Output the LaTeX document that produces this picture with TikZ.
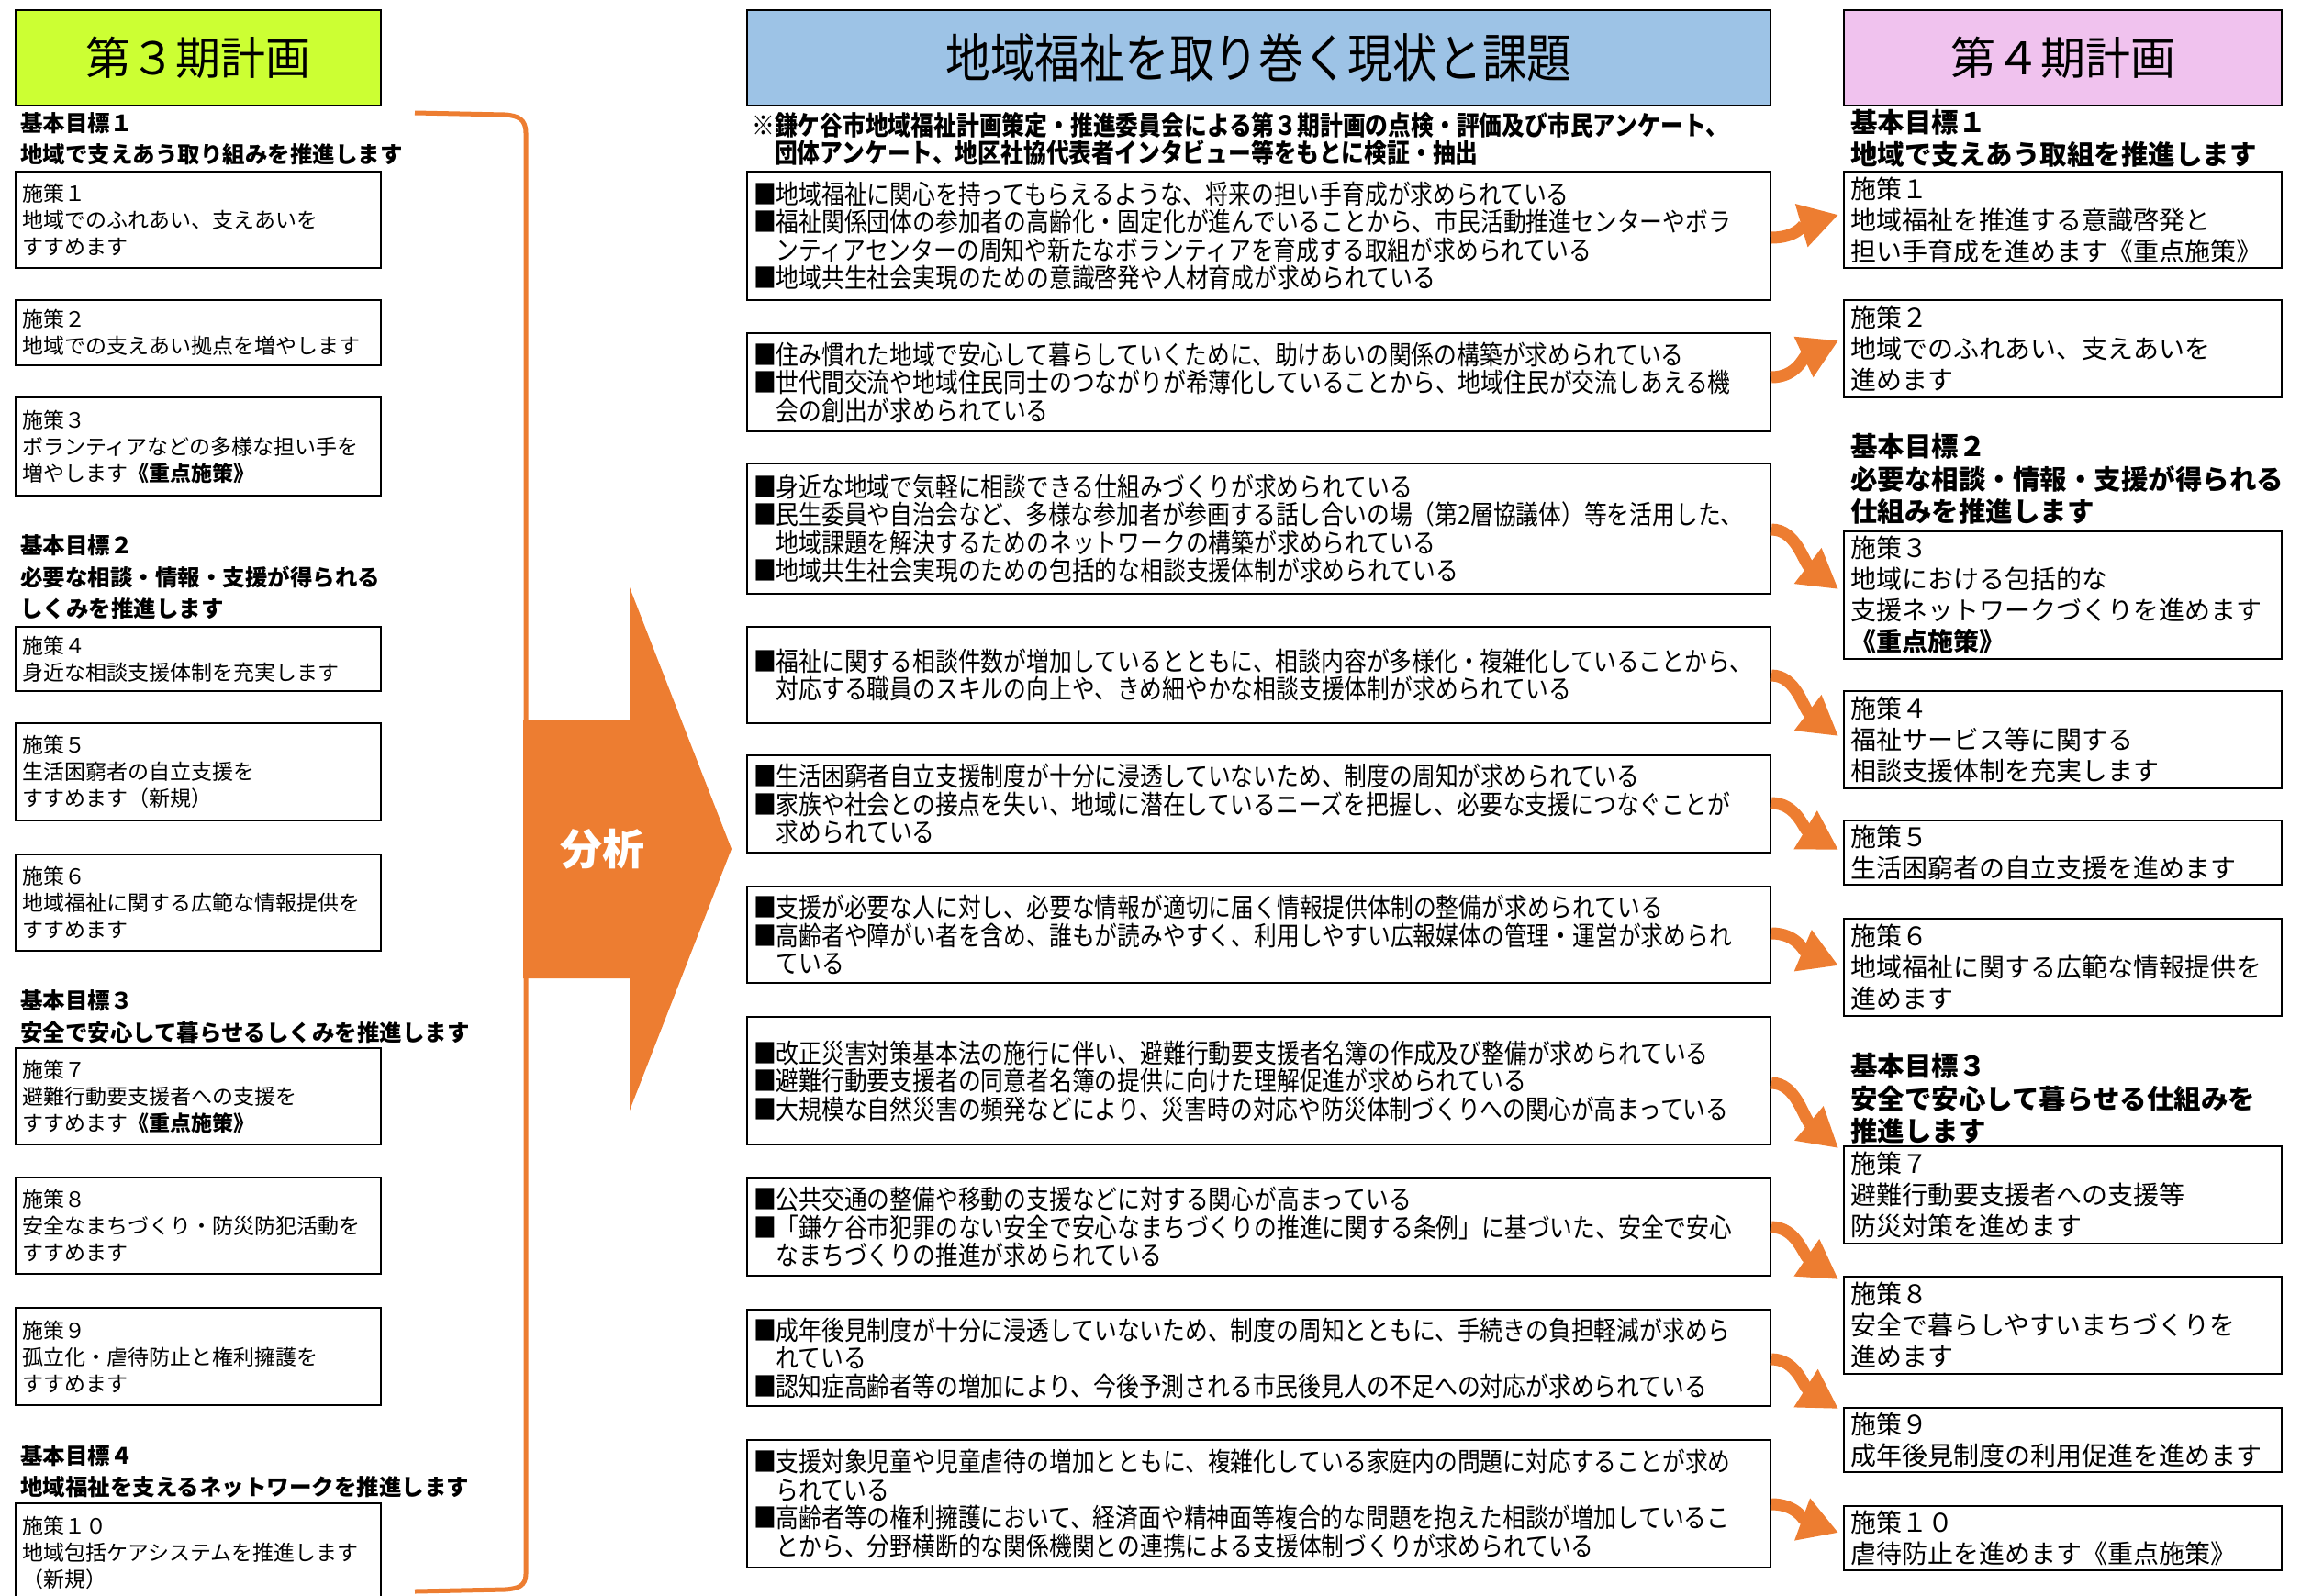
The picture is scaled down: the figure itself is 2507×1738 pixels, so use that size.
\documentclass[tikz,border=0pt]{standalone}
\usepackage{fontspec}
\setmainfont{Noto Sans CJK JP}
\newfontfamily\condfont[FakeStretch=0.855]{Noto Sans CJK JP}
\usetikzlibrary{arrows.meta}
\definecolor{myorange}{RGB}{237,125,49}
\definecolor{titlegreen}{RGB}{204,255,51}
\definecolor{titleblue}{RGB}{157,195,230}
\definecolor{titlepink}{RGB}{240,194,238}
\tikzset{
 lbox/.style={draw, line width=2pt, anchor=north west, minimum width=398pt, text width=384pt, inner xsep=7pt, inner ysep=0pt, align=left, font=\fontsize{23}{29}\selectfont},
 mbox/.style={draw, line width=2pt, anchor=north west, minimum width=1115pt, text width=1101pt, inner xsep=7pt, inner ysep=0pt, align=left, font=\condfont\fontsize{29}{30.5}\selectfont},
 rbox/.style={draw, line width=2pt, anchor=north west, minimum width=477pt, text width=463pt, inner xsep=7pt, inner ysep=0pt, align=left, font=\fontsize{28}{34}\selectfont},
 lhead/.style={anchor=west, inner xsep=6pt, inner ysep=0pt, align=left, font=\bfseries\fontsize{24.5}{34.5}\selectfont},
 rhead/.style={anchor=west, inner xsep=8pt, inner ysep=0pt, align=left, font=\bfseries\fontsize{29.5}{35.5}\selectfont},
 titlebox/.style={draw, line width=2pt, anchor=north west, minimum height=104pt, inner sep=0pt},
 curvarrow/.style={draw=myorange, line width=13pt, -{Triangle[length=42pt,width=46pt]}}
}
\begin{document}
\begin{tikzpicture}[x=1pt,y=-1pt]
\useasboundingbox (0,0) rectangle (2507,1738);
% ---------- big analysis arrow and bracket
\fill[myorange] (570,784) -- (686,784) -- (686,640) -- (797,925) -- (686,1210) -- (686,1066) -- (570,1066) -- cycle;
\node[text=white, font=\bfseries\fontsize{46}{46}\selectfont] (bunseki) at (656,925) {分析};
\draw[myorange, line width=5pt] (452,123) -- (550,125) .. controls (565,126) and (573,130) .. (573,145) -- (573,1715) .. controls (573,1728) and (565,1731) .. (550,1732) -- (452,1734);
% ---------- left column
\node[titlebox, fill=titlegreen, minimum width=398pt, font=\fontsize{49}{49}\selectfont] (t3) at (16,10) {第３期計画};
\node[lhead] (lh1) at (16,151) {基本目標１\\地域で支えあう取り組みを推進します};
\node[lbox, minimum height=105pt] (L1) at (16,186) {施策１\\地域でのふれあい、支えあいを\\すすめます};
\node[lbox, minimum height=71pt] (L2) at (16,326) {施策２\\地域での支えあい拠点を増やします};
\node[lbox, minimum height=107pt] (L3) at (16,432) {施策３\\ボランティアなどの多様な担い手を\\増やします\textbf{《重点施策》}};
\node[lhead] (lh2) at (16,629) {基本目標２\\必要な相談・情報・支援が得られる\\しくみを推進します};
\node[lbox, minimum height=70pt] (L4) at (16,682) {施策４\\身近な相談支援体制を充実します};
\node[lbox, minimum height=106pt] (L5) at (16,787) {施策５\\生活困窮者の自立支援を\\すすめます（新規）};
\node[lbox, minimum height=105pt] (L6) at (16,930) {施策６\\地域福祉に関する広範な情報提供を\\すすめます};
\node[lhead] (lh3) at (16,1107.5) {基本目標３\\安全で安心して暮らせるしくみを推進します};
\node[lbox, minimum height=105pt] (L7) at (16,1141) {施策７\\避難行動要支援者への支援を\\すすめます\textbf{《重点施策》}};
\node[lbox, minimum height=105pt] (L8) at (16,1282) {施策８\\安全なまちづくり・防災防犯活動を\\すすめます};
\node[lbox, minimum height=106pt] (L9) at (16,1424) {施策９\\孤立化・虐待防止と権利擁護を\\すすめます};
\node[lhead] (lh4) at (16,1603.5) {基本目標４\\地域福祉を支えるネットワークを推進します};
\node[lbox, minimum height=108pt] (L10) at (16,1637) {施策１０\\地域包括ケアシステムを推進します\\（新規）};
% ---------- middle column
\node[titlebox, fill=titleblue, minimum width=1115pt, font=\condfont\fontsize{57}{57}\selectfont] (tm) at (813,10) {地域福祉を取り巻く現状と課題};
\node[anchor=west, inner sep=0pt, align=left, font=\condfont\bfseries\fontsize{29}{27}\selectfont] (note) at (819,151.5) {※鎌ケ谷市地域福祉計画策定・推進委員会による第３期計画の点検・評価及び市民アンケート、\\　団体アンケート、地区社協代表者インタビュー等をもとに検証・抽出};
\node[mbox, minimum height=140pt] (A) at (813,186) {■地域福祉に関心を持ってもらえるような、将来の担い手育成が求められている\\■福祉関係団体の参加者の高齢化・固定化が進んでいることから、市民活動推進センターやボラ\\　ンティアセンターの周知や新たなボランティアを育成する取組が求められている\\■地域共生社会実現のための意識啓発や人材育成が求められている};
\node[mbox, minimum height=107pt] (B) at (813,362) {■住み慣れた地域で安心して暮らしていくために、助けあいの関係の構築が求められている\\■世代間交流や地域住民同士のつながりが希薄化していることから、地域住民が交流しあえる機\\　会の創出が求められている};
\node[mbox, minimum height=142pt] (C) at (813,504) {■身近な地域で気軽に相談できる仕組みづくりが求められている\\■民生委員や自治会など、多様な参加者が参画する話し合いの場（第2層協議体）等を活用した、\\　地域課題を解決するためのネットワークの構築が求められている\\■地域共生社会実現のための包括的な相談支援体制が求められている};
\node[mbox, minimum height=105pt] (D) at (813,682) {■福祉に関する相談件数が増加しているとともに、相談内容が多様化・複雑化していることから、\\　対応する職員のスキルの向上や、きめ細やかな相談支援体制が求められている};
\node[mbox, minimum height=106pt] (E) at (813,822) {■生活困窮者自立支援制度が十分に浸透していないため、制度の周知が求められている\\■家族や社会との接点を失い、地域に潜在しているニーズを把握し、必要な支援につなぐことが\\　求められている};
\node[mbox, minimum height=105pt] (F) at (813,965) {■支援が必要な人に対し、必要な情報が適切に届く情報提供体制の整備が求められている\\■高齢者や障がい者を含め、誰もが読みやすく、利用しやすい広報媒体の管理・運営が求められ\\　ている};
\node[mbox, minimum height=139pt] (G) at (813,1107) {■改正災害対策基本法の施行に伴い、避難行動要支援者名簿の作成及び整備が求められている\\■避難行動要支援者の同意者名簿の提供に向けた理解促進が求められている\\■大規模な自然災害の頻発などにより、災害時の対応や防災体制づくりへの関心が高まっている};
\node[mbox, minimum height=106pt] (H) at (813,1283) {■公共交通の整備や移動の支援などに対する関心が高まっている\\■「鎌ケ谷市犯罪のない安全で安心なまちづくりの推進に関する条例」に基づいた、安全で安心\\　なまちづくりの推進が求められている};
\node[mbox, minimum height=105pt] (I) at (813,1426) {■成年後見制度が十分に浸透していないため、制度の周知とともに、手続きの負担軽減が求めら\\　れている\\■認知症高齢者等の増加により、今後予測される市民後見人の不足への対応が求められている};
\node[mbox, minimum height=139pt] (J) at (813,1568) {■支援対象児童や児童虐待の増加とともに、複雑化している家庭内の問題に対応することが求め\\　られている\\■高齢者等の権利擁護において、経済面や精神面等複合的な問題を抱えた相談が増加しているこ\\　とから、分野横断的な関係機関との連携による支援体制づくりが求められている};
% ---------- right column
\node[titlebox, fill=titlepink, minimum width=477pt, font=\fontsize{49}{49}\selectfont] (t4) at (2008,10) {第４期計画};
\node[rhead] (rh1) at (2008,151) {基本目標１\\地域で支えあう取組を推進します};
\node[rbox, minimum height=105pt] (R1) at (2008,186) {施策１\\地域福祉を推進する意識啓発と\\担い手育成を進めます《重点施策》};
\node[rbox, minimum height=106pt] (R2) at (2008,326) {施策２\\地域でのふれあい、支えあいを\\進めます};
\node[rhead] (rh2) at (2008,522) {基本目標２\\必要な相談・情報・支援が得られる\\仕組みを推進します};
\node[rbox, minimum height=139pt] (R3) at (2008,578) {施策３\\地域における包括的な\\支援ネットワークづくりを進めます\\\textbf{《重点施策》}};
\node[rbox, minimum height=106pt] (R4) at (2008,752) {施策４\\福祉サービス等に関する\\相談支援体制を充実します};
\node[rbox, minimum height=70pt] (R5) at (2008,893) {施策５\\生活困窮者の自立支援を進めます};
\node[rbox, minimum height=106pt] (R6) at (2008,1000) {施策６\\地域福祉に関する広範な情報提供を\\進めます};
\node[rhead] (rh3) at (2008,1197) {基本目標３\\安全で安心して暮らせる仕組みを\\推進します};
\node[rbox, minimum height=106pt] (R7) at (2008,1248) {施策７\\避難行動要支援者への支援等\\防災対策を進めます};
\node[rbox, minimum height=106pt] (R8) at (2008,1390) {施策８\\安全で暮らしやすいまちづくりを\\進めます};
\node[rbox, minimum height=70pt] (R9) at (2008,1533) {施策９\\成年後見制度の利用促進を進めます};
\node[rbox, minimum height=70pt] (R10) at (2008,1640) {施策１０\\虐待防止を進めます《重点施策》};
% ---------- curved arrows
\draw[curvarrow] ([yshift=-2pt]A.east) .. controls +(27,0) and +(-38,11) .. ([xshift=-5pt,yshift=5.5pt]R1.west);
\draw[curvarrow] ([yshift=5.5pt]B.east) .. controls +(27,0) and +(-38,18) .. ([xshift=-5pt,yshift=9pt]R2.west);
\draw[curvarrow] ([yshift=-1pt]C.east) .. controls +(27,0) and +(-38,-29) .. ([xshift=-5pt,yshift=6.5pt]R3.west);
\draw[curvarrow] ([yshift=-0.5pt]D.east) .. controls +(27,0) and +(-38,-29) .. ([xshift=-5pt,yshift=4pt]R4.west);
\draw[curvarrow] ([yshift=1pt]E.east) .. controls +(27,0) and +(-38,-23) .. ([xshift=-5pt,yshift=3pt]R5.west);
\draw[curvarrow] ([yshift=1.5pt]F.east) .. controls +(27,0) and +(-38,-16) .. ([xshift=-5pt,yshift=2pt]R6.west);
\draw[curvarrow] ([yshift=-2.5pt]G.east) .. controls +(27,0) and +(-38,-32) .. ([xshift=-5pt,yshift=51pt]R7.west);
\draw[curvarrow] ([yshift=0pt]H.east) .. controls +(27,0) and +(-38,-26) .. ([xshift=-5pt,yshift=50pt]R8.west);
\draw[curvarrow] ([yshift=-1.5pt]I.east) .. controls +(27,0) and +(-38,-24) .. ([xshift=-5pt,yshift=34pt]R9.west);
\draw[curvarrow] ([yshift=-0.5pt]J.east) .. controls +(27,0) and +(-38,-14) .. ([xshift=-5pt,yshift=6pt]R10.west);
\end{tikzpicture}
\end{document}
